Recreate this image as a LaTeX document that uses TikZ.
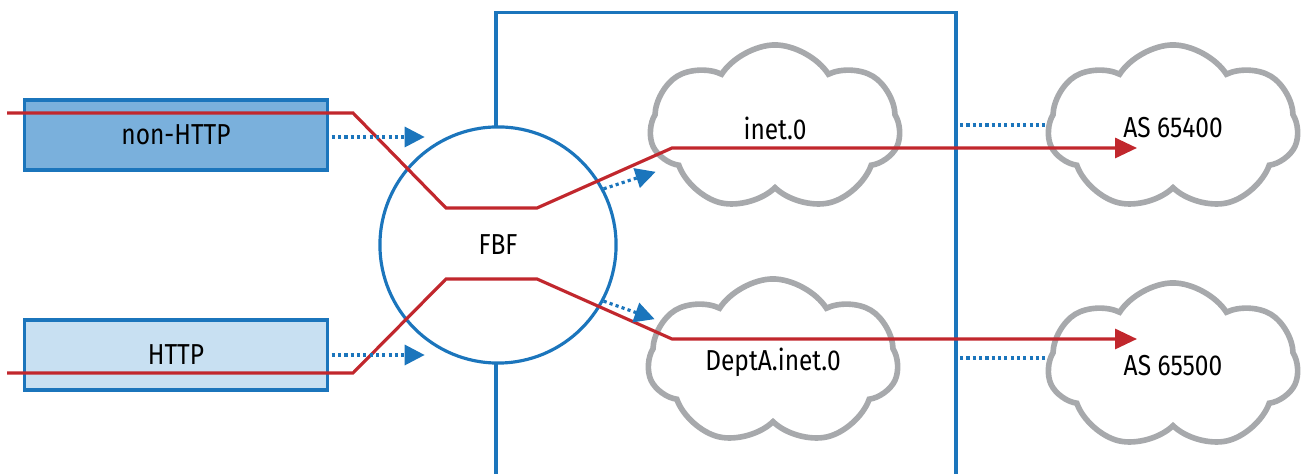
\documentclass[tikz,border=0pt]{standalone}
\usepackage{fontspec}
\setmainfont{Fira Sans}[FakeStretch=0.85]
\usepackage{tikz}
\usetikzlibrary{positioning, arrows.meta, calc, shapes.symbols}
\definecolor{netblue}{HTML}{1B75BC}
\definecolor{netred}{HTML}{C1272D}
\definecolor{cloudgray}{HTML}{A7A9AC}
\definecolor{boxdark}{HTML}{7AB0DC}
\definecolor{boxlight}{HTML}{C8E0F2}

\begin{document}
\begin{tikzpicture}[
  x=0.01cm, y=-0.01cm,
  font=\fontsize{8.2}{10}\selectfont,
  frame/.style={draw=netblue, line width=0.9pt},
  tbox/.style={rectangle, draw=netblue, line width=0.9pt, minimum width=3.02cm,
               minimum height=0.7cm, inner sep=0pt},
  fbfc/.style={circle, draw=netblue, fill=white, line width=0.9pt, minimum size=2.36cm, inner sep=0pt},
  rib/.style={cloud, cloud puffs=7, cloud puff arc=115, aspect=1.5, draw=cloudgray, line width=1.6pt,
              minimum width=2.5cm, minimum height=1.66cm, inner sep=0pt},
  rt/.style={netred, line width=0.9pt, -{Triangle[length=2.2mm, width=2mm]}},
  dotarr/.style={netblue, line width=0.9pt, dash pattern=on 0.9pt off 0.9pt,
                 -{Triangle[length=2mm, width=2mm]}},
  dotln/.style={netblue, line width=0.9pt, dash pattern=on 0.9pt off 0.9pt}]
\useasboundingbox (0,0) rectangle (1307,474);
% --- router frame ---
\coordinate (ftl) at (496,12.5);
\coordinate (ftr) at (956,12.5);
\coordinate (fbl) at (496,474);
\coordinate (fbr) at (956,474);
\draw[frame] (fbl) -- (ftl) -- (ftr) -- (fbr);
% --- nodes ---
\node[fbfc] (fbf) at (498,245) {FBF};
\node[tbox, fill=boxdark] (nonhttp) at (176,135) {non-HTTP};
\node[tbox, fill=boxlight] (http) at (176,355) {HTTP};
\node[rib] (inet) at (775,128) {inet.0};
\node[rib] (depta) at (773,362) {DeptA.inet.0};
\node[rib] (as400) at (1173,128) {AS 65400};
\node[rib] (as500) at (1173,366) {AS 65500};
% --- traffic paths ---
\coordinate (a0) at (7,113);   \coordinate (a1) at (353,113);
\coordinate (a2) at (446,208); \coordinate (a3) at (537,208);
\coordinate (a4) at (672,148); \coordinate (a5) at (1137,148);
\coordinate (b0) at (7,373);   \coordinate (b1) at (353,373);
\coordinate (b2) at (446,279); \coordinate (b3) at (537,279);
\coordinate (b4) at (672,339); \coordinate (b5) at (1137,339);
\draw[rt] (a0) -- (a1) -- (a2) -- (a3) -- (a4) -- (a5);
\draw[rt] (b0) -- (b1) -- (b2) -- (b3) -- (b4) -- (b5);
% --- filter arrows ---
\draw[dotarr] ($(nonhttp.east)+(3,2)$) -- ++(93,0);
\draw[dotarr] ($(http.east)+(3,0)$) -- ++(93,0);
\draw[dotarr] (fbf.28) -- ++(52,-17);
\draw[dotarr] (fbf.-28) -- ++(51,18);
\draw[dotln] ($(ftr |- as400.west)+(4,-3)$) -- ($(as400.west)+(0,-3)$);
\draw[dotln] ($(ftr |- as500.west)+(4,-8)$) -- ($(as500.west)+(0,-8)$);
\end{tikzpicture}
\end{document}
